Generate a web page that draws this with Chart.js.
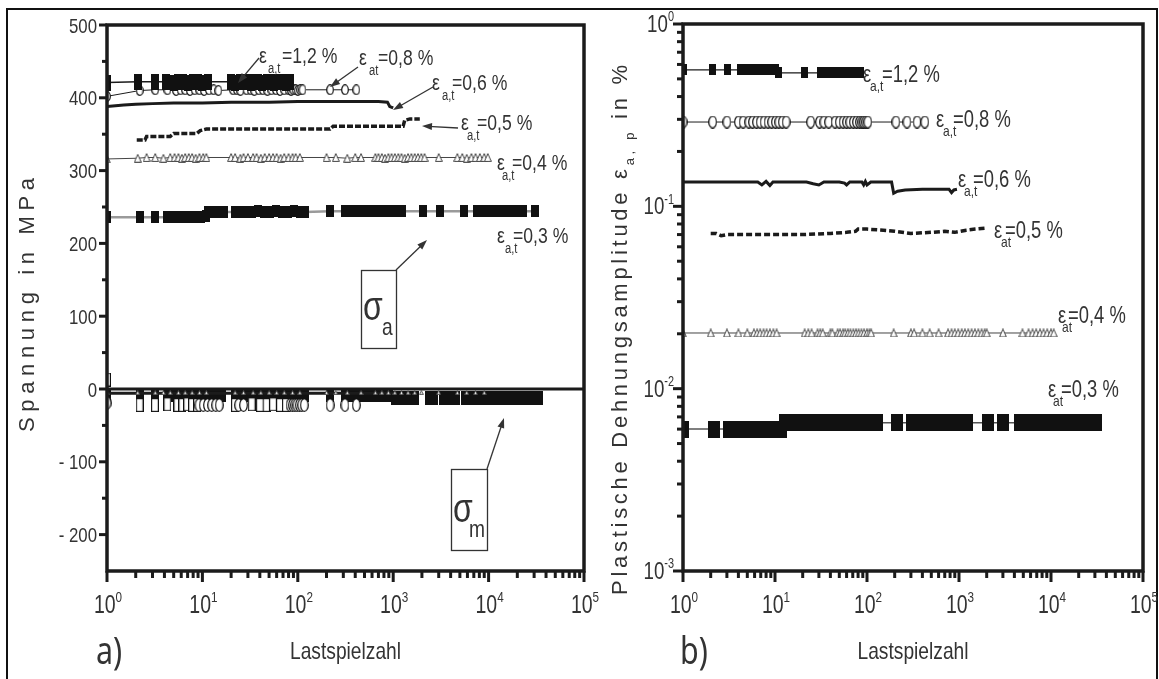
<!DOCTYPE html>
<html>
<head>
<meta charset="utf-8">
<title>Spannung und plastische Dehnungsamplitude</title>
<script src="https://cdn.jsdelivr.net/npm/chart.js@4.4.1/dist/chart.umd.min.js"></script>
<style>
  html, body { margin: 0; padding: 0; background: #fff; }
  body { width: 1159px; height: 679px; position: relative; overflow: hidden; }
  .frame { position: absolute; left: 6px; top: 8px; width: 1152px; height: 700px; border: 2px solid #111; box-sizing: border-box; }
  canvas { position: absolute; top: 0; }
  #chartA { left: 0; }
  #chartB { left: 600px; }
</style>
</head>
<body>
<div class="frame"></div>
<canvas id="chartA" width="600" height="679"></canvas>
<canvas id="chartB" width="559" height="679"></canvas>
<script>
// ---- axis ticks ----
const xTicks = [1, 10, 100, 1000, 10000, 100000];
const xTickExp = ['0', '1', '2', '3', '4', '5'];
const yTicksA = [-200, -100, 0, 100, 200, 300, 400, 500];
const yTicksB = [0.001, 0.01, 0.1, 1];
const yTickExpB = ['-3', '-2', '-1', '0'];

// ---- a) stress amplitude sigma_a (MPa) vs cycles ----
const cycA12 = [1, 2.1, 3.2, 4.2, 5, 5.6, 6.3, 7.1, 8, 9,
                10, 11.5, 20, 22, 24.5, 29, 32, 35, 38, 42,
                47, 51, 56, 62, 68, 75, 83];
const sigA12 = [421, 422, 422, 422, 421, 422, 422, 421, 422, 422,
                421, 422, 422, 421, 422, 422, 421, 422, 422, 421,
                422, 422, 421, 422, 422, 421, 422];

const cycA08 = [1, 2.2, 3.2, 4.3, 5.3, 5.9, 6.6, 7.4, 8.3, 9.3,
                10.4, 11.7, 13.1, 14.7, 21, 23, 25, 29, 32, 35,
                39, 43, 48, 53, 59, 65, 72, 80, 85, 90,
                95, 100, 106, 112, 218, 312, 410];
const sigA08 = [402, 410, 411, 411, 410, 411, 411, 410, 411, 411,
                410, 411, 411, 410, 411, 411, 410, 411, 411, 410,
                411, 411, 410, 411, 411, 410, 411, 411, 410, 411,
                411, 410, 411, 411, 411, 411, 411];

const cycA06 = [1, 1.5, 2, 3, 5, 10, 20, 50, 100, 200, 400, 700, 870, 920, 1000];
const sigA06 = [388, 390, 391, 392, 393, 393, 394, 394, 395, 395, 395, 395, 394, 388, 386];

const cycA05 = [2.05, 2.5, 2.6, 4.6, 5, 8.7, 9.5, 11, 50, 218, 235, 1270, 1320, 1500, 1900];
const sigA05 = [342, 342, 347, 347, 351, 351, 355, 357, 357, 357, 361, 361, 369, 371, 371];

const cycA04 = [1, 2.1, 2.6, 3.2, 3.9, 4.6, 5.1, 5.6, 6.1, 6.6,
                7.2, 7.8, 8.5, 9.3, 10.2, 11, 20, 22, 25, 27,
                30, 34, 37, 41, 45, 50, 55, 60, 66, 72,
                80, 88, 95, 105, 200, 250, 330, 400, 460, 650,
                700, 760, 820, 890, 960, 1040, 1130, 1220, 1320, 1430,
                1550, 1680, 1820, 1970, 2130, 3000, 4700, 5300, 5900, 6600,
                7300, 8100, 9000, 9800];
const sigA04 = [316, 317, 318, 318, 317, 318, 318, 318, 317, 318,
                318, 318, 317, 318, 318, 318, 318, 318, 317, 318,
                318, 318, 318, 317, 318, 318, 318, 318, 317, 318,
                318, 318, 318, 318, 318, 318, 317, 318, 318, 318,
                318, 318, 317, 318, 318, 318, 318, 318, 317, 318,
                318, 318, 318, 318, 318, 318, 318, 318, 317, 318,
                318, 318, 318, 318];

const cycA03 = [1, 2.2, 3.2, 4.3, 5, 5.6, 6.3, 7, 7.8, 8.7,
                9.7, 10.8, 11.5, 12.8, 14.3, 16, 17, 22, 24, 29,
                33, 38, 44, 51, 59, 68, 79, 91, 105, 119,
                218, 312, 380, 440, 510, 590, 680, 790, 910, 1050,
                1230, 2050, 3080, 5500, 7600, 8800, 10200, 11800, 13700, 15900,
                18400, 21300, 23000, 30800];
const sigA03 = [236, 236, 236, 236, 236, 236, 236, 236, 236, 236,
                236, 237, 243, 243, 243, 243, 243, 243, 243, 243,
                243, 244, 243, 243, 244, 243, 243, 244, 243, 243,
                244, 244, 244, 244, 244, 244, 244, 244, 244, 244,
                244, 244, 244, 244, 244, 244, 244, 244, 244, 244,
                244, 244, 244, 244];

// ---- a) mean stress sigma_m (MPa) ----
const cycM12 = [1, 2.2, 3.18, 4.29, 5.46, 6.15, 6.93, 7.8, 8.8, 21.9, 32.9, 40, 47, 55, 65, 75];
const sigM12 = [13, -22, -22, -21, -22, -22, -21, -22, -22, -22, -21, -22, -22, -21, -22, -22];
const cycM08 = [1, 9.2, 10.2, 11.3, 12.5, 13.8, 15, 24, 27, 83, 88, 93, 98, 104, 110, 117, 218, 312, 410];
const sigM08 = [-19, -22, -22, -22, -22, -22, -22, -22, -22, -22, -22, -22, -22, -22, -22, -22, -22, -22, -22];
const cycM06 = [1, 10, 100, 1000];
const sigM06 = [-6, -6, -6, -6];
const cycM04 = [1, 2.1, 3.2, 3.9, 4.6, 5.6, 6.6, 7.8, 9.3, 11,
                22, 27, 34, 41, 50, 60, 72, 88, 105, 200,
                250, 330, 460, 650, 760, 890, 1040, 1220, 1430, 1680,
                1970, 3000, 4700, 5900, 7300, 9000];
const sigM04 = [-5, -5, -5, -5, -5, -5, -5, -5, -5, -5,
                -5, -5, -5, -5, -5, -5, -5, -5, -5, -5,
                -5, -5, -5, -5, -5, -5, -5, -5, -5, -5,
                -5, -5, -5, -5, -5, -5];
const cycM03 = [1, 2.2, 3.2, 4.3, 5, 5.6, 6.3, 7, 7.8, 8.7,
                9.7, 10.8, 12, 14, 16, 22, 24, 29, 33, 38,
                44, 51, 59, 68, 79, 91, 105, 119, 218, 312,
                380, 440, 510, 590, 680, 790, 910, 1050, 1230, 1450,
                1700, 2400, 2700, 3300, 3700, 4200, 4600, 5600, 6300, 7100,
                8000, 9000, 10100, 11400, 12800, 14400, 16200, 18200, 20500, 23000,
                28000, 31000, 34000];
const sigM03 = [-8, -8, -8, -8, -8, -8, -8, -8, -8, -8,
                -8, -8, -8, -8, -8, -8, -8, -8, -8, -8,
                -8, -8, -8, -8, -8, -8, -8, -8, -8, -8,
                -8, -8, -8, -8, -8, -8, -8, -12, -12, -13,
                -13, -13, -13, -13, -13, -13, -13, -13, -13, -13,
                -13, -13, -13, -13, -13, -13, -13, -13, -13, -13,
                -13, -13, -13];
const zeroCyc = [1, 100000];
const zeroVal = [0, 0];

// ---- b) plastic strain amplitude (%) vs cycles ----
const cycB12 = [1, 2.1, 3.05, 4.2, 4.9, 5.5, 6.1, 6.8, 7.5, 8.3,
                9.2, 10.2, 11, 21, 31, 35, 39, 43, 48, 53,
                59, 65, 72, 79, 84];
const epB12 = [0.56, 0.56, 0.56, 0.56, 0.56, 0.56, 0.56, 0.56, 0.56, 0.56,
               0.56, 0.56, 0.54, 0.54, 0.54, 0.54, 0.54, 0.54, 0.54, 0.54,
               0.54, 0.54, 0.54, 0.54, 0.54];

const cycB08 = [1, 2.1, 3, 4, 4.5, 5.2, 5.7, 6.3, 6.9, 7.6,
                8.4, 9.2, 10.1, 11, 12, 13.2, 24.4, 30.5, 34, 38.3,
                45, 50, 55, 60, 65, 71, 77, 83, 88, 92,
                97, 102, 206, 272, 350, 425];
const epB08 = [0.29, 0.29, 0.29, 0.29, 0.29, 0.29, 0.29, 0.29, 0.29, 0.29,
               0.29, 0.29, 0.29, 0.29, 0.29, 0.29, 0.29, 0.29, 0.29, 0.29,
               0.29, 0.29, 0.29, 0.29, 0.29, 0.29, 0.29, 0.29, 0.29, 0.29,
               0.29, 0.29, 0.29, 0.29, 0.29, 0.29];

const cycB06 = [1, 6.5, 7.2, 8, 8.8, 9.5, 22, 26, 30, 34,
                50, 57, 60, 65, 88, 92, 96, 100, 110, 185,
                195, 215, 260, 400, 700, 780, 830, 880, 950];
const epB06 = [0.136, 0.136, 0.131, 0.137, 0.130, 0.136, 0.136, 0.133, 0.131, 0.136,
               0.136, 0.134, 0.131, 0.136, 0.136, 0.131, 0.137, 0.131, 0.136, 0.136,
               0.118, 0.121, 0.123, 0.124, 0.124, 0.124, 0.119, 0.123, 0.124];

const cycB05 = [2, 2.3, 2.6, 3, 5, 10, 20, 40, 60, 75,
                80, 100, 150, 200, 300, 500, 700, 900, 1200, 1500,
                2000];
const epB05 = [0.071, 0.071, 0.069, 0.07, 0.07, 0.07, 0.07, 0.071, 0.072, 0.073,
               0.075, 0.075, 0.074, 0.073, 0.071, 0.072, 0.073, 0.072, 0.074, 0.075,
               0.076];

const cycB04 = [1, 2, 3, 4, 5, 5.9, 6.4, 6.9, 7.5, 8.1,
                8.8, 9.6, 10.4, 21, 23, 25, 29, 31, 33, 40,
                42, 48, 51, 55, 58, 62, 66, 71, 76, 81,
                87, 93, 100, 106, 111, 195, 300, 325, 400, 480,
                600, 760, 830, 900, 980, 1070, 1160, 1260, 1370, 1490,
                1620, 1760, 1900, 2000, 3000, 4900, 5700, 6300, 6900, 7600,
                8300, 9100, 10000, 10700];
const epB04 = [0.0202, 0.0202, 0.0202, 0.0202, 0.0202, 0.0202, 0.0202, 0.0202, 0.0202, 0.0202,
               0.0202, 0.0202, 0.0202, 0.0202, 0.0202, 0.0202, 0.0202, 0.0202, 0.0202, 0.0202,
               0.0202, 0.0202, 0.0202, 0.0202, 0.0202, 0.0202, 0.0202, 0.0202, 0.0202, 0.0202,
               0.0202, 0.0202, 0.0202, 0.0202, 0.0202, 0.0202, 0.0202, 0.0202, 0.0202, 0.0202,
               0.0202, 0.0202, 0.0202, 0.0202, 0.0202, 0.0202, 0.0202, 0.0202, 0.0202, 0.0202,
               0.0202, 0.0202, 0.0202, 0.0202, 0.0202, 0.0202, 0.0202, 0.0202, 0.0202, 0.0202,
               0.0202, 0.0202, 0.0202, 0.0202];

const cycB03 = [1, 2.15, 3.13, 3.6, 4.1, 4.6, 5.2, 5.8, 6.5, 7.3,
                8.2, 9.2, 10.3, 11.5, 12.8, 14.3, 16, 18.5, 23.6, 28.6,
                33, 38, 44, 51, 59, 68, 79, 91, 105, 120,
                128, 211, 307, 372, 430, 500, 580, 670, 780, 900,
                1040, 1220, 2050, 3000, 4600, 5300, 6100, 7000, 8100, 9300,
                10700, 12400, 14300, 16500, 19000, 21900, 24900, 30900];
const epB03 = [0.006, 0.006, 0.006, 0.006, 0.006, 0.006, 0.006, 0.006, 0.006, 0.006,
               0.006, 0.006, 0.006, 0.006, 0.0065, 0.0065, 0.0065, 0.0065, 0.0065, 0.0065,
               0.0065, 0.0065, 0.0065, 0.0065, 0.0065, 0.0065, 0.0065, 0.0065, 0.0065, 0.0065,
               0.0065, 0.0065, 0.0065, 0.0065, 0.0065, 0.0065, 0.0065, 0.0065, 0.0065, 0.0065,
               0.0065, 0.0065, 0.0065, 0.0065, 0.0065, 0.0065, 0.0065, 0.0065, 0.0065, 0.0065,
               0.0065, 0.0065, 0.0065, 0.0065, 0.0065, 0.0065, 0.0065, 0.0065];

// ---- drawing helpers ----
const INK = '#1b1b1b';
const TXT = '#333';
const SANS = '"Liberation Sans", Arial, sans-serif';
const NARROW = 0.8;

function mark(w, h, draw) {
  const c = document.createElement('canvas');
  c.width = w; c.height = h;
  draw(c.getContext('2d'), w, h);
  return c;
}
const sqFill = (w, h) => mark(w, h, (g) => { g.fillStyle = '#111'; g.fillRect(0, 0, w, h); });
const sqOpen = (w, h) => mark(w, h, (g) => {
  g.fillStyle = '#fff'; g.fillRect(0, 0, w, h);
  g.strokeStyle = '#111'; g.lineWidth = 1.2; g.strokeRect(0.6, 0.6, w - 1.2, h - 1.2);
});
const ellOpen = (w, h) => mark(w, h, (g) => {
  g.fillStyle = '#fff'; g.strokeStyle = '#111'; g.lineWidth = 1.2;
  g.beginPath(); g.ellipse(w / 2, h / 2, w / 2 - 0.7, h / 2 - 0.7, 0, 0, Math.PI * 2); g.fill(); g.stroke();
});
const triOpen = (w, h, col) => mark(w, h, (g) => {
  g.fillStyle = '#fff'; g.strokeStyle = col; g.lineWidth = 1;
  g.beginPath(); g.moveTo(w / 2, 0.6); g.lineTo(w - 0.6, h - 0.6); g.lineTo(0.6, h - 0.6); g.closePath();
  g.fill(); g.stroke();
});

function series(xs, ys, opts) {
  return Object.assign({
    data: xs.map((x, i) => ({ x: x, y: ys[i] })),
    borderColor: INK, borderWidth: 1.2, pointRadius: 0, tension: 0, fill: false
  }, opts);
}

function ntext(ctx, s, x, y, size, align, squeeze, family) {
  const k = squeeze || NARROW;
  ctx.save();
  ctx.font = size + 'px ' + (family || SANS);
  ctx.fillStyle = TXT;
  ctx.textBaseline = 'alphabetic';
  ctx.textAlign = 'left';
  const w = ctx.measureText(s).width * k;
  const x0 = align === 'center' ? x - w / 2 : align === 'right' ? x - w : x;
  ctx.translate(x0, y);
  ctx.scale(k, 1);
  ctx.fillText(s, 0, 0);
  ctx.restore();
  return w;
}

function pow10(ctx, exp, x, y, size, align) {
  ctx.save();
  ctx.font = size + 'px ' + SANS;
  const wb = ctx.measureText('10').width * 0.78;
  ctx.font = Math.round(size * 0.6) + 'px ' + SANS;
  const we = ctx.measureText(exp).width * 0.78;
  ctx.restore();
  const x0 = align === 'center' ? x - (wb + we) / 2 : align === 'right' ? x - wb - we : x;
  ntext(ctx, '10', x0, y, size, 'left', 0.78);
  ntext(ctx, exp, x0 + wb, y - size * 0.45, Math.round(size * 0.6), 'left', 0.78);
}

function spacedTitle(ctx, parts, cx, cy, span, size) {
  ctx.save();
  ctx.fillStyle = TXT;
  const font = (sub) => (sub ? Math.round(size * 0.6) : size) + 'px ' + SANS;
  const chars = [];
  parts.forEach(([t, sub]) => { for (const ch of t) chars.push([ch, sub]); });
  let natural = 0;
  chars.forEach((c) => { ctx.font = font(c[1]); c.push(ctx.measureText(c[0]).width); natural += c[2]; });
  const gap = (span - natural) / (chars.length - 1);
  ctx.translate(cx, cy);
  ctx.rotate(-Math.PI / 2);
  ctx.textBaseline = 'middle';
  let px = -span / 2;
  chars.forEach((c) => {
    ctx.font = font(c[1]);
    ctx.fillText(c[0], px, c[1] ? size * 0.45 : 0);
    px += c[2] + gap;
  });
  ctx.restore();
}

function arrow(ctx, a) {
  const ang = Math.atan2(a.y2 - a.y1, a.x2 - a.x1);
  ctx.save();
  ctx.strokeStyle = '#333'; ctx.fillStyle = '#333'; ctx.lineWidth = 1.3;
  ctx.beginPath(); ctx.moveTo(a.x1, a.y1);
  ctx.lineTo(a.x2 - 6 * Math.cos(ang), a.y2 - 6 * Math.sin(ang)); ctx.stroke();
  ctx.translate(a.x2, a.y2); ctx.rotate(ang);
  ctx.beginPath(); ctx.moveTo(0, 0); ctx.lineTo(-10, -3.5); ctx.lineTo(-10, 3.5); ctx.closePath(); ctx.fill();
  ctx.restore();
}

function epsLabel(ctx, L, size, subSize, subDrop) {
  ntext(ctx, 'ε', L.x, L.y, size);
  ntext(ctx, L.sub, L.sx, L.y + subDrop, subSize);
  ntext(ctx, L.txt, L.rx, L.y, size);
}

function sigmaBox(ctx, b) {
  ctx.save(); ctx.strokeStyle = '#333'; ctx.lineWidth = 1.3;
  ctx.strokeRect(b.x + 0.5, b.y + 0.5, b.w, b.h); ctx.restore();
  ntext(ctx, 'σ', b.x + 2, b.base, 40);
  ntext(ctx, b.sub, b.sx, b.base + 15, 24);
}

function seg(ctx, x1, y1, x2, y2) { ctx.beginPath(); ctx.moveTo(x1, y1); ctx.lineTo(x2, y2); ctx.stroke(); }

function frameAndXTicks(chart) {
  const { ctx, chartArea: a, scales } = chart;
  ctx.save();
  ctx.strokeStyle = INK; ctx.lineWidth = 3.5;
  ctx.strokeRect(a.left, a.top, a.right - a.left, a.bottom - a.top);
  ctx.lineWidth = 3;
  for (let d = 0; d < 5; d++) {
    for (let m = 1; m <= 9; m++) {
      const px = scales.x.getPixelForValue(m * xTicks[d]);
      seg(ctx, px, a.bottom, px, a.bottom + (m === 1 ? 11 : 7));
    }
  }
  const pEnd = scales.x.getPixelForValue(xTicks[5]);
  seg(ctx, pEnd, a.bottom, pEnd, a.bottom + 11);
  ctx.restore();
  xTicks.forEach((v, i) => pow10(ctx, xTickExp[i], scales.x.getPixelForValue(v) + 1, a.bottom + 42, 25, 'center'));
}

// ---- annotation layout (canvas pixels) ----
const labelsA = [
  { x: 259, y: 63, sub: 'a,t', sx: 268, rx: 282, txt: '=1,2 %' },
  { x: 359, y: 65, sub: 'at', sx: 369, rx: 378, txt: '=0,8 %' },
  { x: 432, y: 90, sub: 'a,t', sx: 442, rx: 452, txt: '=0,6 %' },
  { x: 461, y: 130, sub: 'a,t', sx: 467, rx: 477, txt: '=0,5 %' },
  { x: 497, y: 170, sub: 'a,t', sx: 502, rx: 512, txt: '=0,4 %' },
  { x: 497, y: 243, sub: 'a,t', sx: 505, rx: 513, txt: '=0,3 %' }
];
const arrowsA = [
  { x1: 259, y1: 58, x2: 238, y2: 83 },
  { x1: 358, y1: 67, x2: 330, y2: 87 },
  { x1: 433, y1: 87, x2: 393, y2: 110 },
  { x1: 458, y1: 128, x2: 422, y2: 126 },
  { x1: 396, y1: 270, x2: 427, y2: 240 },
  { x1: 487, y1: 469, x2: 504, y2: 418 }
];
const labelsB = [
  { x: 263, y: 82, sub: 'a,t', sx: 270, rx: 282, txt: '=1,2 %' },
  { x: 336, y: 127, sub: 'a,t', sx: 343, rx: 353, txt: '=0,8 %' },
  { x: 358, y: 187, sub: 'a,t', sx: 364, rx: 373, txt: '=0,6 %' },
  { x: 394, y: 238, sub: 'at', sx: 401, rx: 405, txt: '=0,5 %' },
  { x: 458, y: 323, sub: 'at', sx: 462, rx: 468, txt: '=0,4 %' },
  { x: 448, y: 397, sub: 'at', sx: 453, rx: 461, txt: '=0,3 %' }
];

const decoA = {
  id: 'decoA',
  afterDraw(chart) {
    const { ctx, chartArea: a, scales } = chart;
    frameAndXTicks(chart);
    ctx.save();
    ctx.strokeStyle = INK; ctx.lineWidth = 3;
    for (let v = -200; v <= 500; v += 50) {
      const py = scales.y.getPixelForValue(v);
      seg(ctx, a.left - (v % 100 === 0 ? 8 : 5), py, a.left, py);
    }
    ctx.restore();
    yTicksA.forEach((v) => {
      const t = v < 0 ? '- ' + Math.abs(v) : String(v);
      ntext(ctx, t, a.left - 10, scales.y.getPixelForValue(v) + 7.5, 21, 'right');
    });
    spacedTitle(ctx, [['Spannung in MPa', false]], 28, 305, 254, 22);
    ntext(ctx, 'Lastspielzahl', (a.left + a.right) / 2, 659, 24, 'center');
    ntext(ctx, 'a)', 96, 664, 38, 'left', 0.8, '"Noto Sans", "Open Sans", sans-serif');
    labelsA.forEach((L) => epsLabel(ctx, L, 22, 14, 10));
    arrowsA.forEach((ar) => arrow(ctx, ar));
    sigmaBox(ctx, { x: 361, y: 270, w: 35, h: 78, base: 320, sub: 'a', sx: 382 });
    sigmaBox(ctx, { x: 451, y: 469, w: 36, h: 81, base: 522, sub: 'm', sx: 469 });
  }
};

const decoB = {
  id: 'decoB',
  afterDraw(chart) {
    const { ctx, chartArea: a, scales } = chart;
    frameAndXTicks(chart);
    ctx.save();
    ctx.strokeStyle = INK; ctx.lineWidth = 3;
    for (let d = 0; d < 3; d++) {
      for (let m = 1; m <= 9; m++) {
        const py = scales.y.getPixelForValue(m * yTicksB[d]);
        seg(ctx, a.left - (m === 1 ? 10 : 6), py, a.left, py);
      }
    }
    const pTop = scales.y.getPixelForValue(yTicksB[3]);
    seg(ctx, a.left - 10, pTop, a.left, pTop);
    ctx.restore();
    yTicksB.forEach((v, i) => pow10(ctx, yTickExpB[i], a.left - 9, scales.y.getPixelForValue(v) + 8, 24, 'right'));
    spacedTitle(ctx, [['Plastische Dehnungsamplitude ε', false], ['a, p', true], [' in %', false]], 21, 330, 530, 22);
    ntext(ctx, 'Lastspielzahl', (a.left + a.right) / 2, 659, 24, 'center');
    ntext(ctx, 'b)', 80, 664, 38, 'left', 0.8, '"Noto Sans", "Open Sans", sans-serif');
    labelsB.forEach((L) => epsLabel(ctx, L, 23, 15, 9));
  }
};

function chartOptions(yScale, pad) {
  return {
    responsive: false,
    animation: false,
    events: [],
    layout: { padding: pad },
    plugins: { legend: { display: false }, tooltip: { enabled: false } },
    scales: {
      x: { type: 'logarithmic', min: 1, max: 100000, display: false },
      y: Object.assign({ display: false }, yScale)
    }
  };
}

// ---- chart a) ----
new Chart(document.getElementById('chartA'), {
  type: 'line',
  data: {
    datasets: [
      series(cycA12, sigA12, { pointStyle: sqFill(8, 16), pointRadius: 4, borderWidth: 1.4 }),
      series(cycA08, sigA08, { pointStyle: ellOpen(8, 11), pointRadius: 4, borderWidth: 1 }),
      series(cycA06, sigA06, { borderWidth: 3 }),
      series(cycA05, sigA05, { borderWidth: 3.5, borderDash: [6, 2] }),
      series(cycA04, sigA04, { pointStyle: triOpen(8, 9, '#444'), pointRadius: 4, borderColor: '#444', borderWidth: 1 }),
      series(cycA03, sigA03, { pointStyle: sqFill(8, 12), pointRadius: 4, borderColor: '#9a9a9a', borderWidth: 2.5 }),
      series(cycM08, sigM08, { pointStyle: ellOpen(9, 14), pointRadius: 4, showLine: false }),
      series(cycM12, sigM12, { pointStyle: sqOpen(8, 14), pointRadius: 4, showLine: false }),
      series(cycM04, sigM04, { pointStyle: triOpen(5, 5, '#444'), pointRadius: 3, showLine: false }),
      series(cycM06, sigM06, { borderWidth: 3 }),
      series(zeroCyc, zeroVal, { borderWidth: 3 }),
      series(cycM03, sigM03, { pointStyle: sqFill(8, 14), pointRadius: 4, showLine: false })
    ]
  },
  options: chartOptions({ type: 'linear', min: -250, max: 500 }, { left: 107, right: 16, top: 25, bottom: 108 }),
  plugins: [decoA]
});

// ---- chart b) ----
new Chart(document.getElementById('chartB'), {
  type: 'line',
  data: {
    datasets: [
      series(cycB12, epB12, { pointStyle: sqFill(7, 11), pointRadius: 4, borderWidth: 1.2 }),
      series(cycB08, epB08, { pointStyle: ellOpen(9, 13), pointRadius: 4, borderWidth: 1 }),
      series(cycB06, epB06, { borderWidth: 3 }),
      series(cycB05, epB05, { borderWidth: 3.5, borderDash: [6, 3] }),
      series(cycB04, epB04, { pointStyle: triOpen(8, 9, '#444'), pointRadius: 4, borderColor: '#444', borderWidth: 1 }),
      series(cycB03, epB03, { pointStyle: sqFill(12, 17), pointRadius: 4, borderColor: '#555', borderWidth: 1.5 })
    ]
  },
  options: chartOptions({ type: 'logarithmic', min: 0.001, max: 1 }, { left: 83, right: 16, top: 24, bottom: 108 }),
  plugins: [decoB]
});
</script>
</body>
</html>
